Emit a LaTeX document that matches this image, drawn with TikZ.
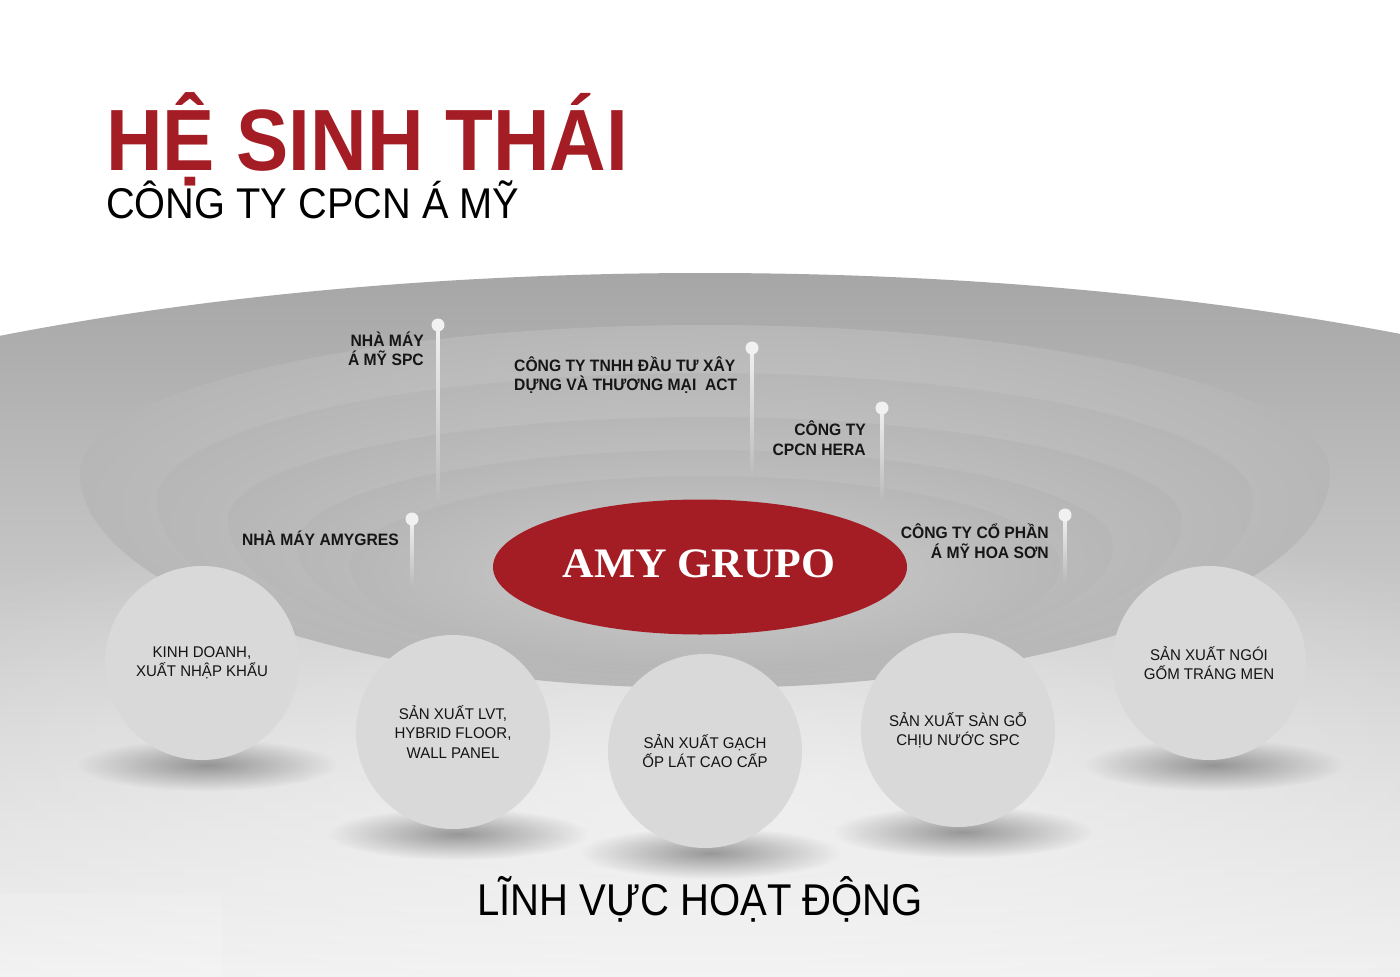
\documentclass[tikz,border=0pt]{standalone}
\usepackage{fontspec}
\setmainfont{Liberation Sans}
\newfontfamily\labfont{Liberation Sans}[FakeStretch=0.95]
\newfontfamily\circfont{Liberation Sans}[FakeStretch=0.97]
\newfontfamily\grupofont{Liberation Serif}
\usetikzlibrary{fadings,shapes.geometric,calc}
\definecolor{amyred}{HTML}{A51D24}
\definecolor{ringA}{HTML}{C1C1C1}
\definecolor{ringB}{HTML}{ADADAD}
\definecolor{ringC}{HTML}{A3A3A3}
\definecolor{ringD}{HTML}{999999}
\definecolor{outA}{HTML}{A6A6A6}
\definecolor{outB}{HTML}{D0D0D0}
\definecolor{outC}{HTML}{F0F0F0}
\definecolor{circfill}{HTML}{D9D9D9}
\definecolor{labtext}{HTML}{161616}
\definecolor{pinwhite}{HTML}{F1F1F1}
\definecolor{stemend}{HTML}{BABABA}
\pgfdeclareradialshading{ringshade}{\pgfpoint{0bp}{0bp}}{color(0bp)=(ringA); color(14bp)=(ringA); color(36bp)=(ringB); color(46bp)=(ringC); color(50bp)=(ringD)}
\tikzfading[name=shadowfade, inner color=transparent!30, outer color=transparent!100]
\tikzfading[name=glowfade, inner color=transparent!0, outer color=transparent!100]
\tikzset{
  ringpath/.style={shading=ringshade},
  pinball/.style={circle, fill=pinwhite, minimum size=13pt, inner sep=0pt},
  stemline/.style={top color=pinwhite, bottom color=stemend},
  pinlabel/.style={inner sep=0pt, text=labtext, font=\labfont\bfseries\fontsize{16.5}{19.5}\selectfont},
  bizcircle/.style={circle, fill=circfill, minimum size=194pt, inner sep=0pt, align=center, text=black!92, font=\circfont\fontsize{15.5}{19.5}\selectfont},
  bizshadow/.style={fill=black!55, path fading=shadowfade},
}
\begin{document}
\begin{tikzpicture}[x=1pt, y=-1pt]
\useasboundingbox (0,0) rectangle (1400,977);
\fill[white] (0,0) rectangle (1400,977);
% outer bowl
\begin{scope}
  \clip (705,700) ellipse [x radius=1350, y radius=427];
  \shade[top color=outA, middle color=outB, bottom color=outC] (0,273) rectangle (1400,977);
\end{scope}
\fill[white, opacity=0.55, path fading=glowfade] (705,790) ellipse [x radius=1000, y radius=300];
\fill[white, opacity=0.15] (0,893) rectangle (222,977);
% rings
\shade[ringpath] (80,473) arc[start angle=180, end angle=360, x radius=625, y radius=148] arc[start angle=0, end angle=180, x radius=625, y radius=215] -- cycle;
\shade[ringpath] (157,500) arc[start angle=180, end angle=360, x radius=548, y radius=127] arc[start angle=0, end angle=180, x radius=548, y radius=182] -- cycle;
\shade[ringpath] (228,520) arc[start angle=180, end angle=360, x radius=477, y radius=103] arc[start angle=0, end angle=180, x radius=477, y radius=156] -- cycle;
\shade[ringpath] (297,545) arc[start angle=180, end angle=360, x radius=408, y radius=95] arc[start angle=0, end angle=180, x radius=408, y radius=127] -- cycle;
\shade[ringpath] (350,565) arc[start angle=180, end angle=360, x radius=355, y radius=89] arc[start angle=0, end angle=180, x radius=355, y radius=103] -- cycle;
% core
\node[ellipse, fill=amyred, minimum width=414pt, minimum height=135pt, inner sep=0pt] (core) at (700,567) {};
\node[inner sep=0pt, text=white, font=\grupofont\bfseries\fontsize{42}{42}\selectfont] (grupo) at (699,564) {\scalebox{1.04}[1]{AMY GRUPO}};
% pins
\coordinate (e1) at (438,503);
\coordinate (e2) at (752,478);
\coordinate (e3) at (882,500);
\coordinate (e4) at (1065,582);
\coordinate (e5) at (412,587);
\coordinate (s1) at (438,325);
\coordinate (s2) at (752,348);
\coordinate (s3) at (882,408);
\coordinate (s4) at (1065,515);
\coordinate (s5) at (412,519);
\shade[stemline] ($(s1)+(-1.3,0)$) rectangle ($(e1)+(1.3,0)$);
\shade[stemline] ($(s2)+(-1.3,0)$) rectangle ($(e2)+(1.3,0)$);
\shade[stemline] ($(s3)+(-1.3,0)$) rectangle ($(e3)+(1.3,0)$);
\shade[stemline] ($(s4)+(-1.3,0)$) rectangle ($(e4)+(1.3,0)$);
\shade[stemline] ($(s5)+(-1.3,0)$) rectangle ($(e5)+(1.3,0)$);
\node[pinball] (b1) at (s1) {};
\node[pinball] (b2) at (s2) {};
\node[pinball] (b3) at (s3) {};
\node[pinball] (b4) at (s4) {};
\node[pinball] (b5) at (s5) {};
% pin labels
\node[pinlabel, anchor=east, align=right] (l1) at (424,349) {NHÀ MÁY\\Á MỸ SPC};
\node[pinlabel, anchor=west, align=left] (l2) at (514,375) {CÔNG TY TNHH ĐẦU TƯ XÂY\\DỰNG VÀ THƯƠNG MẠI\ \ ACT};
\node[pinlabel, anchor=east, align=right] (l3) at (866,438) {CÔNG TY\\CPCN HERA};
\node[pinlabel, anchor=east, align=right] (l4) at (1049,541) {CÔNG TY CỔ PHẦN\\Á MỸ HOA SƠN};
\node[pinlabel, anchor=east] (l5) at (399,538) {NHÀ MÁY AMYGRES};
% business circles
\coordinate (p1) at (202,663);
\coordinate (p2) at (453,732);
\coordinate (p3) at (705,751);
\coordinate (p4) at (958,730);
\coordinate (p5) at (1209,663);
\fill[bizshadow] ($(p1)+(5,102)$) ellipse [x radius=130, y radius=26];
\fill[bizshadow] ($(p2)+(5,102)$) ellipse [x radius=130, y radius=26];
\fill[bizshadow] ($(p3)+(5,102)$) ellipse [x radius=130, y radius=26];
\fill[bizshadow] ($(p4)+(5,102)$) ellipse [x radius=130, y radius=26];
\fill[bizshadow] ($(p5)+(5,102)$) ellipse [x radius=130, y radius=26];
\node[bizcircle] (c1) at (p1) {KINH DOANH,\\XUẤT NHẬP KHẨU};
\node[bizcircle] (c2) at (p2) {SẢN XUẤT LVT,\\HYBRID FLOOR,\\WALL PANEL};
\node[bizcircle] (c3) at (p3) {SẢN XUẤT GẠCH\\ỐP LÁT CAO CẤP};
\node[bizcircle] (c4) at (p4) {SẢN XUẤT SÀN GỖ\\CHỊU NƯỚC SPC};
\node[bizcircle] (c5) at (p5) {SẢN XUẤT NGÓI\\GỐM TRÁNG MEN};
% titles
\node[anchor=base west, inner sep=0pt, text=amyred, font=\bfseries\fontsize{87}{87}\selectfont] (title) at (106,170) {\scalebox{0.9}[1]{HỆ SINH THÁI}};
\node[anchor=base west, inner sep=0pt, text=black, font=\fontsize{43}{43}\selectfont] (subtitle) at (106,218) {\scalebox{0.925}[1]{CÔNG TY CPCN Á MỸ}};
\node[anchor=base, inner sep=0pt, text=black, font=\fontsize{44.5}{44.5}\selectfont] (fields) at (700,915) {\scalebox{0.9}[1]{LĨNH VỰC HOẠT ĐỘNG}};
\end{tikzpicture}
\end{document}
